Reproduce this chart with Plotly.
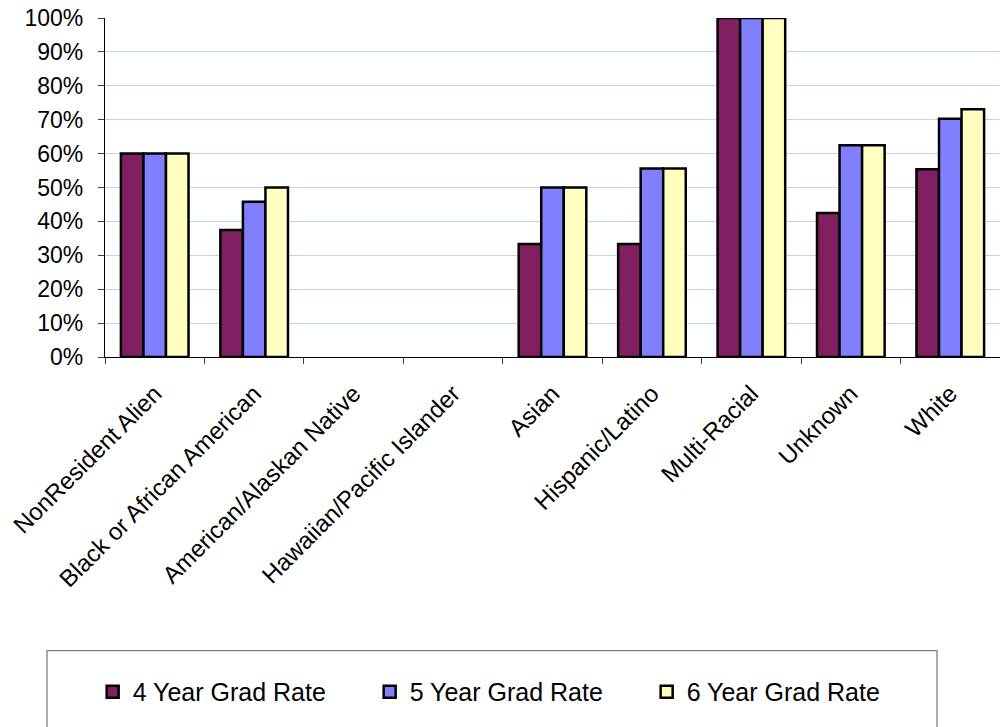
import plotly.graph_objects as go

categories = ["NonResident Alien", "Black or African American", "American/Alaskan Native",
              "Hawaiian/Pacific Islander", "Asian", "Hispanic/Latino", "Multi-Racial",
              "Unknown", "White"]
series_names = ["4 Year Grad Rate", "5 Year Grad Rate", "6 Year Grad Rate"]
rate4 = [60.0, 37.5, None, None, 33.3, 33.3, 100.0, 42.5, 55.4]
rate5 = [60.0, 45.8, None, None, 50.0, 55.6, 100.0, 62.5, 70.3]
rate6 = [60.0, 50.0, None, None, 50.0, 55.6, 100.0, 62.5, 73.1]
colors = ["#802060", "#8080FF", "#FFFFC0"]
y_ticks = list(range(0, 101, 10))

FONT = "Liberation Sans, Arial, sans-serif"

fig = go.Figure()
for name, vals, col in zip(series_names, [rate4, rate5, rate6], colors):
    fig.add_trace(go.Bar(
        x=categories, y=vals, name=name,
        marker=dict(color=col, line=dict(color="black", width=2.5)),
    ))

fig.update_layout(
    width=1000, height=727,
    margin=dict(l=105, r=0, t=18, b=370, autoexpand=False),
    paper_bgcolor="white", plot_bgcolor="white",
    barmode="group", bargap=0.32, bargroupgap=0,
    font=dict(family=FONT, size=23, color="black"),
    showlegend=True,
    legend=dict(
        orientation="h", x=-0.0138, xanchor="left", y=-0.988, yanchor="middle",
        bgcolor="rgba(0,0,0,0)", borderwidth=0,
        font=dict(family=FONT, size=25, color="black"),
        entrywidth=232, entrywidthmode="pixels",
        traceorder="normal",
    ),
    shapes=[dict(
        type="rect", xref="paper", yref="paper",
        x0=-0.0648, x1=0.9296, y0=-0.866, y1=-1.3,
        line=dict(color="#808080", width=1.3), fillcolor="rgba(0,0,0,0)", layer="below",
    )],
)

fig.update_xaxes(
    type="category", tickson="boundaries", ticks="outside", ticklen=6,
    tickcolor="#404040", tickwidth=1,
    showline=True, linecolor="black", linewidth=1.3,
    tickangle=-45, tickfont=dict(family=FONT, size=24, color="black"),
    ticklabelstandoff=12, automargin=False,
    showgrid=False,
)
fig.update_yaxes(
    range=[0, 100], tickvals=y_ticks, ticktext=[f"{v}%" for v in y_ticks],
    ticks="outside", ticklen=6, tickcolor="#404040", tickwidth=1,
    showline=True, linecolor="black", linewidth=1.3,
    showgrid=True, gridcolor="#C2D3F0", gridwidth=1.3,
    zeroline=False, ticklabelstandoff=10, ticklabeloverflow="allow",
    automargin=False,
    tickfont=dict(family=FONT, size=23, color="black"),
)

fig.write_html("out.html",
               config={"displayModeBar": False},
               post_script="document.body.style.margin='0';document.body.style.overflow='hidden';")
